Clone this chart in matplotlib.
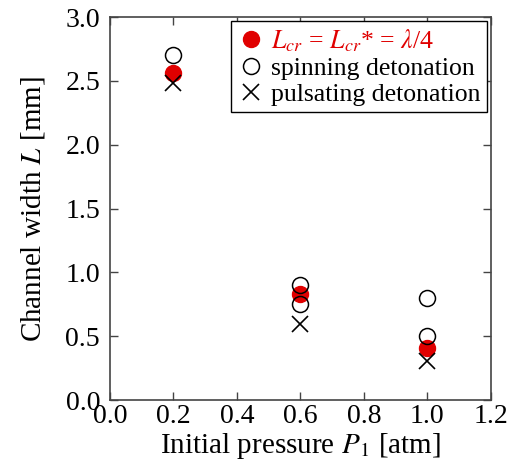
import numpy as np
import matplotlib
matplotlib.use("Agg")
import matplotlib.pyplot as plt

plt.rcParams['font.family'] = ['Liberation Serif', 'DejaVu Serif']
plt.rcParams['mathtext.fontset'] = 'stix'

# critical width L_cr = L_cr* = lambda/4
p_crit = [0.2, 0.6, 1.0]
L_crit = [2.56, 0.83, 0.41]

# spinning detonation
p_spin = [0.2, 0.6, 0.6, 1.0, 1.0]
L_spin = [2.70, 0.90, 0.75, 0.80, 0.50]

# pulsating detonation
p_puls = [0.2, 0.6, 1.0]
L_puls = [2.48, 0.60, 0.31]

fig = plt.figure(figsize=(5.13, 4.73), dpi=100)
ax = fig.add_axes([0.214, 0.154, 0.743, 0.810])

ax.plot(p_crit, L_crit, 'o', ms=11.5, color='#e00000', mec='#e00000',
        label=r'$L$$_{cr}$ = $L$$_{cr}$* = $\lambda$/4', zorder=3)
ax.plot(p_spin, L_spin, 'o', ms=11.5, mfc='none', mec='k', mew=1.1,
        label='spinning detonation', zorder=4)
ax.plot(p_puls, L_puls, 'x', ms=12, color='k', mew=1.2,
        label='pulsating detonation', zorder=4)

ax.set_xlim(0, 1.2)
ax.set_ylim(0, 3.0)
ax.set_xticks(np.arange(0, 1.21, 0.2))
ax.set_yticks(np.arange(0, 3.01, 0.5))
ax.xaxis.set_major_formatter(matplotlib.ticker.FormatStrFormatter('%.1f'))
ax.yaxis.set_major_formatter(matplotlib.ticker.FormatStrFormatter('%.1f'))
ax.tick_params(direction='in', top=True, right=True, length=6, width=1,
               labelsize=20, color='#444444')
ax.tick_params(axis='y', pad=7)
ax.tick_params(axis='x', pad=3)
for s in ax.spines.values():
    s.set_color('#444444')
    s.set_linewidth(1.2)

ax.set_xlabel(r'Initial pressure $P$$_{\rm 1}$ [atm]', fontsize=21, labelpad=1)
ax.set_ylabel(r'Channel width $L$ [mm]', fontsize=21, labelpad=13)

leg = ax.legend(loc='upper right', fontsize=18.5, frameon=True, fancybox=False,
                edgecolor='k', framealpha=1, handletextpad=0.3,
                borderpad=0.25, labelspacing=0.12, handlelength=1.0,
                borderaxespad=0.15)
leg.get_frame().set_linewidth(1.0)
leg.get_texts()[0].set_color('#e00000')

fig.savefig('out.png', dpi=100)
